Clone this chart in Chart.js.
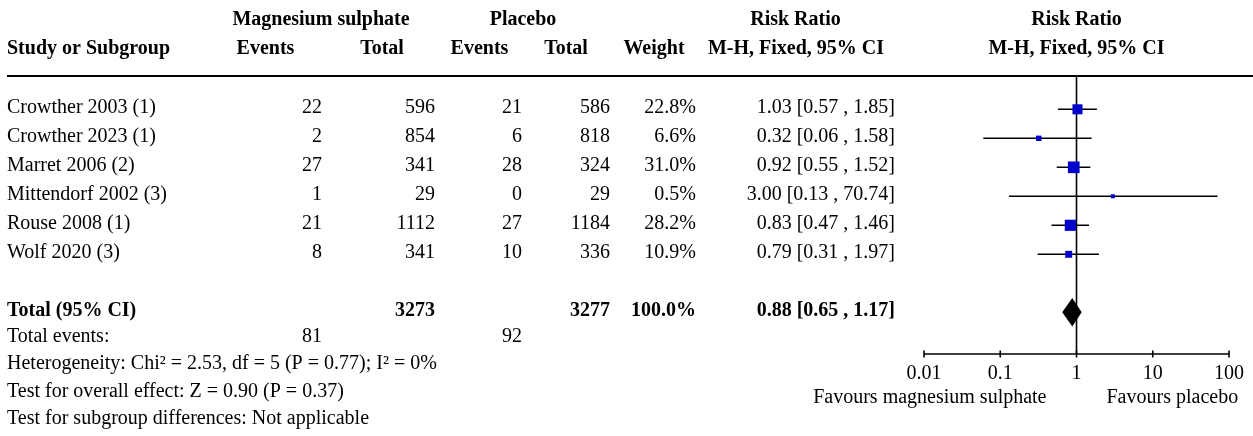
<!DOCTYPE html>
<html>
<head>
<meta charset="utf-8">
<title>Magnesium sulphate vs placebo – forest plot</title>
<script src="https://cdn.jsdelivr.net/npm/chart.js@4/dist/chart.umd.min.js"></script>
<style>
  html, body { margin: 0; padding: 0; background: #fff; }
  #wrap { position: relative; width: 1253px; height: 436px; }
</style>
</head>
<body>
<div id="wrap"><canvas id="forest"></canvas></div>
<script>
// Study-level data
const studies   = ["Crowther 2003 (1)", "Crowther 2023 (1)", "Marret 2006 (2)", "Mittendorf 2002 (3)", "Rouse 2008 (1)", "Wolf 2020 (3)"];
const mgEvents  = [22, 2, 27, 1, 21, 8];
const mgTotals  = [596, 854, 341, 29, 1112, 341];
const plEvents  = [21, 6, 28, 0, 27, 10];
const plTotals  = [586, 818, 324, 29, 1184, 336];
const weights   = [22.8, 6.6, 31.0, 0.5, 28.2, 10.9];
const riskRatio = [1.03, 0.32, 0.92, 3.00, 0.83, 0.79];
const ciLow     = [0.57, 0.06, 0.55, 0.13, 0.47, 0.31];
const ciHigh    = [1.85, 1.58, 1.52, 70.74, 1.46, 1.97];

// Pooled result
const pooledRR   = 0.88;
const pooledLow  = 0.65;
const pooledHigh = 1.17;
const totalMg = 3273;
const totalPl = 3277;
const totalWeight = 100.0;
const totalEventsMg = 81;
const totalEventsPl = 92;

const xTicks = [0.01, 0.1, 1, 10, 100];
const footerLines = [
  "Heterogeneity: Chi² = 2.53, df = 5 (P = 0.77); I² = 0%",
  "Test for overall effect: Z = 0.90 (P = 0.37)",
  "Test for subgroup differences: Not applicable"
];
const leftFavours  = "Favours magnesium sulphate";
const rightFavours = "Favours placebo";

// ---- layout ----
const W = 1253, H = 436;
const FONT = '"Liberation Serif", "Times New Roman", serif';
const PLOT_TOP = 76, AXIS_Y = 354, ROW_PX = 29, FIRST_ROW_PX = 109.3;
const POOLED_ROW = 7;
const yMin = -(FIRST_ROW_PX - PLOT_TOP) / ROW_PX;
const yMax = yMin + (AXIS_Y - PLOT_TOP) / ROW_PX;

const fmt2 = v => v.toFixed(2);
const ciText = (r, l, h) => `${fmt2(r)} [${fmt2(l)} , ${fmt2(h)}]`;
const sideFor = w => Math.max(4, 2.1 * Math.sqrt(w));

// text row centres: table rows follow the plot rows, footer rows are tighter
const TEXT_ROW0 = 106, TEXT_ROW_PX = 29, FOOT_ROW0 = 335, FOOT_ROW_PX = 27.5;
function textY(i) {
  const c = i <= POOLED_ROW ? TEXT_ROW0 + TEXT_ROW_PX * i
                            : FOOT_ROW0 + FOOT_ROW_PX * (i - POOLED_ROW - 1);
  return c + 6.8; // alphabetic baseline
}

// column anchors
const COL = {
  study: 7, mgEv: 322, mgTot: 435, plEv: 522, plTot: 610, weight: 696, rr: 895
};

const ciDatasets = studies.map((s, i) => ({
  label: s + " CI",
  data: [{ x: ciLow[i], y: i }, { x: ciHigh[i], y: i }],
  showLine: true,
  borderColor: "#000",
  borderWidth: 1.6,
  pointRadius: 0,
  order: 2
}));

const tablePlugin = {
  id: "forestTable",
  afterDatasetsDraw(chart) {
    const ctx = chart.ctx;
    const xs = chart.scales.x, ys = chart.scales.y;
    ctx.save();

    // pooled diamond
    const px = xs.getPixelForValue(pooledRR);
    const pl = xs.getPixelForValue(pooledLow);
    const ph = xs.getPixelForValue(pooledHigh);
    const py = ys.getPixelForValue(POOLED_ROW);
    const half = 14.3;
    ctx.fillStyle = "#000";
    ctx.beginPath();
    ctx.moveTo(pl, py);
    ctx.lineTo(px, py - half);
    ctx.lineTo(ph, py);
    ctx.lineTo(px, py + half);
    ctx.closePath();
    ctx.fill();

    // axis line and tick marks
    ctx.strokeStyle = "#000";
    ctx.lineWidth = 1.6;
    const ay = chart.chartArea.bottom;
    ctx.beginPath();
    ctx.moveTo(xs.getPixelForValue(xTicks[0]), ay);
    ctx.lineTo(xs.getPixelForValue(xTicks[xTicks.length - 1]), ay);
    xTicks.forEach(v => {
      const tx = xs.getPixelForValue(v);
      ctx.moveTo(tx, ay - 3.5);
      ctx.lineTo(tx, ay + 3.5);
    });
    ctx.stroke();

    // header rule
    ctx.lineWidth = 2;
    ctx.beginPath();
    ctx.moveTo(7, chart.chartArea.top);
    ctx.lineTo(W, chart.chartArea.top);
    ctx.stroke();

    // favours labels
    const one = xs.getPixelForValue(1);
    ctx.font = `20px ${FONT}`;
    ctx.textBaseline = "alphabetic";
    ctx.textAlign = "right";
    ctx.fillText(leftFavours, one - 30, 403);
    ctx.textAlign = "left";
    ctx.fillText(rightFavours, one + 30, 403);

    // column headers
    const bold = `bold 20px ${FONT}`;
    const reg = `20px ${FONT}`;
    const h1 = 25, h2 = 54;
    ctx.font = bold;
    ctx.textAlign = "center";
    ctx.fillText("Magnesium sulphate", 321, h1);
    ctx.fillText("Placebo", 523, h1);
    ctx.fillText("Risk Ratio", 795.5, h1);
    ctx.fillText("Risk Ratio", one, h1);
    ctx.fillText("Events", 265.5, h2);
    ctx.fillText("Total", 382, h2);
    ctx.fillText("Events", 479.5, h2);
    ctx.fillText("Total", 566, h2);
    ctx.fillText("Weight", 654, h2);
    ctx.fillText("M-H, Fixed, 95% CI", 796, h2);
    ctx.fillText("M-H, Fixed, 95% CI", one, h2);
    ctx.textAlign = "left";
    ctx.fillText("Study or Subgroup", COL.study, h2);

    // study rows
    ctx.font = reg;
    studies.forEach((s, i) => {
      const y = textY(i);
      ctx.textAlign = "left";
      ctx.fillText(s, COL.study, y);
      ctx.textAlign = "right";
      ctx.fillText(String(mgEvents[i]), COL.mgEv, y);
      ctx.fillText(String(mgTotals[i]), COL.mgTot, y);
      ctx.fillText(String(plEvents[i]), COL.plEv, y);
      ctx.fillText(String(plTotals[i]), COL.plTot, y);
      ctx.fillText(weights[i].toFixed(1) + "%", COL.weight, y);
      ctx.fillText(ciText(riskRatio[i], ciLow[i], ciHigh[i]), COL.rr, y);
    });

    // pooled row
    let y = textY(POOLED_ROW);
    ctx.font = bold;
    ctx.textAlign = "left";
    ctx.fillText("Total (95% CI)", COL.study, y);
    ctx.textAlign = "right";
    ctx.fillText(String(totalMg), COL.mgTot, y);
    ctx.fillText(String(totalPl), COL.plTot, y);
    ctx.fillText(totalWeight.toFixed(1) + "%", COL.weight, y);
    ctx.fillText(ciText(pooledRR, pooledLow, pooledHigh), COL.rr, y);

    // footer
    ctx.font = reg;
    y = textY(POOLED_ROW + 1);
    ctx.textAlign = "left";
    ctx.fillText("Total events:", COL.study, y);
    ctx.textAlign = "right";
    ctx.fillText(String(totalEventsMg), COL.mgEv, y);
    ctx.fillText(String(totalEventsPl), COL.plEv, y);
    ctx.textAlign = "left";
    footerLines.forEach((t, k) => ctx.fillText(t, COL.study, textY(POOLED_ROW + 2 + k)));

    ctx.restore();
  }
};

new Chart(document.getElementById("forest"), {
  type: "scatter",
  data: {
    datasets: [
      {
        label: "Study estimates",
        data: riskRatio.map((r, i) => ({ x: r, y: i })),
        pointStyle: "rect",
        pointRadius: weights.map(w => sideFor(w) / (2 * Math.SQRT1_2)),
        pointHoverRadius: weights.map(w => sideFor(w) / (2 * Math.SQRT1_2)),
        backgroundColor: "#0000CC",
        borderWidth: 0,
        order: 0
      },
      ...ciDatasets,
      {
        label: "No effect",
        data: [{ x: 1, y: yMin }, { x: 1, y: yMax }],
        showLine: true,
        borderColor: "#000",
        borderWidth: 1.6,
        pointRadius: 0,
        order: 3
      }
    ]
  },
  options: {
    responsive: true,
    maintainAspectRatio: false,
    animation: false,
    events: [],
    layout: { padding: { left: 924, right: W - 1229, top: PLOT_TOP, bottom: 0 } },
    plugins: { legend: { display: false }, tooltip: { enabled: false } },
    scales: {
      x: {
        type: "logarithmic",
        min: xTicks[0],
        max: xTicks[xTicks.length - 1],
        grid: { display: false, drawTicks: false },
        border: { display: false },
        afterBuildTicks: s => { s.ticks = xTicks.map(v => ({ value: v, major: true })); },
        afterFit: s => { s.height = H - AXIS_Y; },
        ticks: {
          autoSkip: false,
          maxRotation: 0,
          padding: 8,
          color: "#000",
          font: { family: FONT, size: 20 },
          callback: v => String(v)
        }
      },
      y: {
        type: "linear",
        display: false,
        reverse: true,
        min: yMin,
        max: yMax
      }
    }
  },
  plugins: [tablePlugin]
});
</script>
</body>
</html>
